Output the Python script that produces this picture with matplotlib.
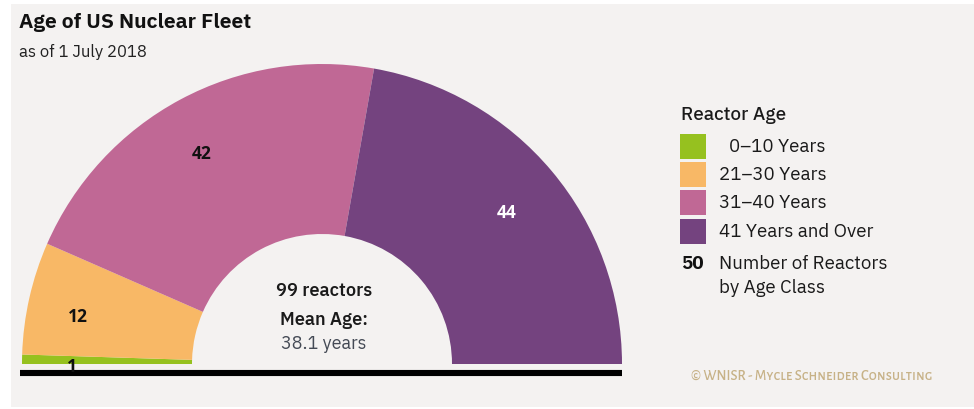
import numpy as np
import matplotlib.pyplot as plt
from matplotlib.patches import Rectangle

# Reactor counts by age class, left to right along the half ring
AGE_CLASSES = ["0–10 Years", "21–30 Years", "31–40 Years", "41 Years and Over"]
REACTORS = [1, 12, 42, 44]
COLORS = ["#96c11f", "#f8b866", "#c06895", "#74437f"]
LABEL_COLORS = ["#111111", "#111111", "#111111", "#ffffff"]
MEAN_AGE = 38.1

TITLE = "Age of US Nuclear Fleet"
SUBTITLE = "as of 1 July 2018"
CREDIT = "© WNISR - Mycle Schneider Consulting"

BG = "#f4f2f1"
W, H = 974, 410
CX, CY, R_OUT, R_IN = 322, 45, 300, 130

plt.rcParams["font.family"] = ["IBM Plex Sans", "Noto Sans", "DejaVu Sans"]
# the plain Plex family only ships one weight here; the JP build carries the heavier ones
HEAVY = ["IBM Plex Sans JP", "Noto Sans", "DejaVu Sans"]


def py(y):
    # pixel row from the top -> data y
    return H - y


fig = plt.figure(figsize=(W / 100, H / 100), dpi=100)
fig.patch.set_facecolor("white")
ax = fig.add_axes([0, 0, 1, 1])

# half ring: the hidden last slice fills the lower half
values = REACTORS + [sum(REACTORS)]
wedges, _ = ax.pie(
    values,
    colors=COLORS + ["none"],
    startangle=180,
    counterclock=False,
    radius=R_OUT,
    center=(CX, CY),
    wedgeprops=dict(width=R_OUT - R_IN, edgecolor="none", linewidth=0),
)
wedges[-1].set_visible(False)
for w in wedges:
    w.set_zorder(2)

ax.add_patch(Rectangle((11, 2), W - 11, 403, facecolor=BG, edgecolor="none", zorder=0))

# slice labels, set a little below the mid radius like the original
r_lab = 0.82 * R_OUT
for w, n, c in zip(wedges[:-1], REACTORS, LABEL_COLORS):
    ang = np.deg2rad((w.theta1 + w.theta2) / 2)
    ax.text(CX + r_lab * np.cos(ang) - 4, CY + r_lab * np.sin(ang) - 6, str(n),
            ha="center", va="center", fontsize=12.5, fontweight="bold", color=c, zorder=5,
            family=["Open Sans", "DejaVu Sans"])

# base line
ax.plot([20, 622], [py(374), py(374)], color="black", lw=4.4, solid_capstyle="butt", zorder=3)

# centre text
ax.text(CX + 2, py(291), f"{sum(REACTORS)} reactors", ha="center", va="center",
        fontsize=12.5, fontweight="semibold", color="#1a1a1a", family=HEAVY)
ax.text(CX + 2, py(320), "Mean Age:", ha="center", va="center",
        fontsize=12.5, fontweight="semibold", color="#1a1a1a", family=HEAVY)
ax.text(CX + 2, py(344), f"{MEAN_AGE} years", ha="center", va="center",
        fontsize=13, color="#444a55")

# title
ax.text(19, py(22), TITLE, ha="left", va="center", fontsize=14.5, fontweight="bold",
        color="#111111", family=HEAVY)
ax.text(19, py(52), SUBTITLE, ha="left", va="center", fontsize=12, color="#222222")

# legend
ax.text(681, py(115), "Reactor Age", ha="left", va="center", fontsize=13,
        fontweight="medium", color="#1a1a1a", family=HEAVY)
label_x = [729, 719, 719, 719]
for i, (lab, col) in enumerate(zip(AGE_CLASSES, COLORS)):
    top = 134.5 + i * 28.4
    ax.add_patch(Rectangle((680, py(top + 25)), 26, 25, facecolor=col, edgecolor="none"))
    ax.text(label_x[i], py(top + 12), lab, ha="left", va="center", fontsize=13.5, color="#1a1a1a")
ax.text(681, py(264), "50", ha="left", va="center", fontsize=13, fontweight="bold",
        color="#111111", family=HEAVY)
ax.text(719, py(264), "Number of Reactors", ha="left", va="center", fontsize=13.5, color="#1a1a1a")
ax.text(719, py(288), "by Age Class", ha="left", va="center", fontsize=13.5, color="#1a1a1a")

ax.text(812, py(375), CREDIT, ha="center", va="center", fontsize=10.5, fontweight="medium",
        color="#c7b287", family=["Alegreya Sans SC", "DejaVu Sans"])

ax.set_xlim(0, W)
ax.set_ylim(0, H)
ax.set_aspect("auto")
ax.axis("off")

fig.savefig("out.png", dpi=100, facecolor=fig.get_facecolor())
